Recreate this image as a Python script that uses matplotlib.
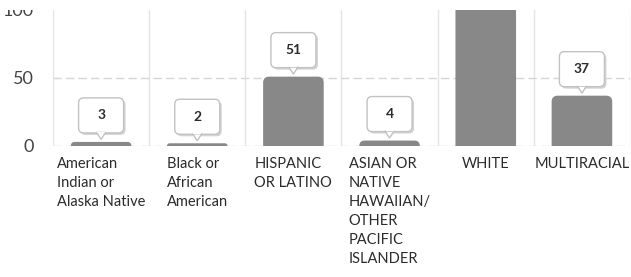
import matplotlib
matplotlib.use("Agg")
import matplotlib.pyplot as plt
import matplotlib.patches as mpatches
import matplotlib.transforms as mtransforms

# data
categories = [
    "American\nIndian or\nAlaska Native",
    "Black or\nAfrican\nAmerican",
    "HISPANIC\nOR LATINO",
    "ASIAN OR\nNATIVE\nHAWAIIAN/\nOTHER\nPACIFIC\nISLANDER",
    "WHITE",
    "MULTIRACIAL",
]
values = [3, 2, 51, 4, 104, 37]
yticks = [0, 50, 100]

BAR_COLOR = "#888888"
TEXT_COLOR = "#2b2b2b"

plt.rcParams["font.family"] = ["Lato", "DejaVu Sans"]

fig = plt.figure(figsize=(6.31, 2.77), dpi=100)
ax = fig.add_axes([53 / 631, 131 / 277, 577 / 631, 136 / 277])

ax.set_xlim(-0.5, len(categories) - 0.5)
ax.set_ylim(0, 100)

# everything is cut off at the top of the plot area
top_clip = mtransforms.TransformedBbox(
    mtransforms.Bbox([[0, 0], [1, 267 / 277]]), fig.transFigure)

# grid: light vertical column separators, dashed horizontal lines
for xb in range(len(categories) + 1):
    ax.axvline(xb - 0.5, color="#e4e4e4", lw=1, zorder=0)
for yt in yticks[:-1]:
    ax.axhline(yt, color="#d6d6d6", lw=1, ls=(0, (6, 3)), zorder=0)

bars = ax.bar(range(len(categories)), values, width=0.63, color=BAR_COLOR, zorder=2)

# round off the top corners of each bar
px_per_x = ax.transData.transform((1, 0))[0] - ax.transData.transform((0, 0))[0]
px_per_y = ax.transData.transform((0, 1))[1] - ax.transData.transform((0, 0))[1]
aspect = px_per_x / px_per_y
for b in bars:
    h_px = b.get_height() * px_per_y
    r_px = min(6.0, h_px)
    r_x = r_px / px_per_x
    ext = r_px / px_per_y
    rounded = mpatches.FancyBboxPatch(
        (b.get_x(), -ext), b.get_width(), b.get_height() + ext,
        boxstyle=f"round,pad=0,rounding_size={r_x}",
        mutation_aspect=aspect, fc=BAR_COLOR, ec="none", zorder=2)
    ax.add_patch(rounded)
    b.set_visible(False)

# speech-bubble value labels
bw, bh, gap = 0.45, 0.35, 0.09
for i, v in enumerate(values):
    trans = fig.dpi_scale_trans + mtransforms.ScaledTranslation(i, v, ax.transData)
    shadow = mpatches.FancyBboxPatch(
        (-bw / 2 + 0.02, gap - 0.02), bw, bh,
        boxstyle="round,pad=0,rounding_size=0.05",
        fc="#d4d4d4", ec="none", transform=trans, zorder=3)
    box = mpatches.FancyBboxPatch(
        (-bw / 2, gap), bw, bh,
        boxstyle="round,pad=0,rounding_size=0.05",
        fc="white", ec="#c2c2c2", lw=1, transform=trans, zorder=4)
    tip = mpatches.Polygon(
        [(-0.045, gap + 0.005), (0.045, gap + 0.005), (0.0, 0.025)],
        closed=True, fc="white", ec="#c2c2c2", lw=1, transform=trans, zorder=4)
    cover = mpatches.Rectangle((-0.04, gap + 0.002), 0.08, 0.012, fc="white",
                               ec="none", transform=trans, zorder=5)
    lbl = ax.text(0, gap + bh / 2, str(v), transform=trans, ha="center",
                  va="center", fontsize=10, fontweight="bold",
                  color=TEXT_COLOR, zorder=6)
    for p in (shadow, box, tip, cover):
        ax.add_patch(p)
    for a in (shadow, box, tip, cover, lbl):
        a.set_clip_on(True)
        a.set_clip_box(top_clip)

ax.set_yticks(yticks)
ax.set_yticklabels([str(t) for t in yticks], fontsize=13, color="#444444")
ax.set_xticks(range(len(categories)))
ax.set_xticklabels(categories, fontsize=10.5, color=TEXT_COLOR, va="top",
                   ha="center", multialignment="left", linespacing=1.45)
ax.tick_params(axis="both", length=0)
ax.tick_params(axis="x", pad=8)
ax.tick_params(axis="y", pad=14)
for s in ax.spines.values():
    s.set_visible(False)

# the top label is cut by the plot's upper edge, as in the reference
for t in ax.get_yticklabels():
    t.set_clip_on(True)
    t.set_clip_box(top_clip)

fig.savefig("out.png", dpi=100)
